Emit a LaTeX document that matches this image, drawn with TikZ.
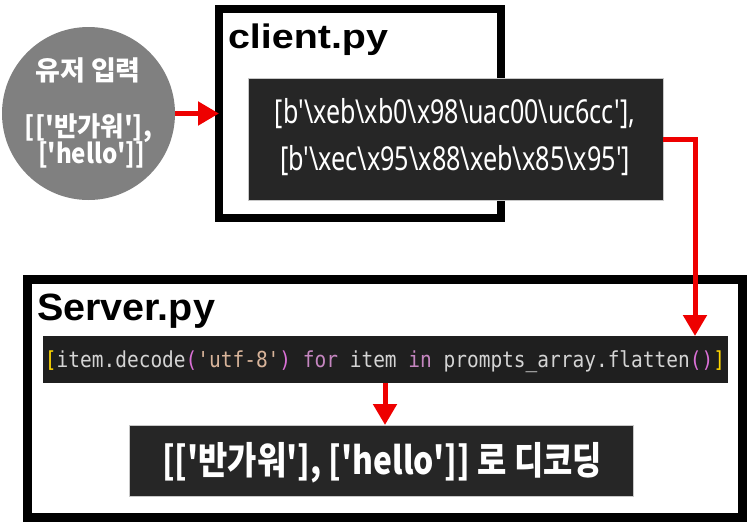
\documentclass[tikz,border=0pt]{standalone}
\usepackage{fontspec}
\usepackage{graphicx}
\usetikzlibrary{arrows.meta}
\newfontfamily\krfont{Noto Sans CJK KR}
\newfontfamily\titlefont{Liberation Sans}
\newfontfamily\codefont{DejaVu Sans Mono}
\newfontfamily\condfont{Noto Sans}
\definecolor{arrowred}{HTML}{EE0000}
\definecolor{circgray}{HTML}{808080}
\definecolor{boxdark}{HTML}{262626}
\definecolor{stripdark}{HTML}{1F1F1F}
\definecolor{boxedge}{HTML}{C8C8C8}
\definecolor{cyel}{HTML}{FFD700}
\definecolor{cfg}{HTML}{D4D4D4}
\definecolor{cpink}{HTML}{DA70D6}
\definecolor{cstr}{HTML}{D8B49A}
\definecolor{ckw}{HTML}{C586C0}
\newcommand{\bs}{\textbackslash}
\tikzset{
  frame/.style={draw=black, inner sep=0pt, outer sep=0pt},
  darkbox/.style={fill=boxdark, draw=boxedge, line width=0.8pt, inner sep=0pt, outer sep=0pt},
  redarrow/.style={draw=arrowred, line width=5pt, -{Triangle[length=21pt,width=23pt]}},
  lbl/.style={inner sep=0pt, outer sep=0pt, anchor=base},
}
\begin{document}
\begin{tikzpicture}[x=1pt,y=-1pt]
\useasboundingbox (0,0) rectangle (748,523);
% frames
\node[frame, line width=8pt, minimum width=282pt, minimum height=209pt] (cbox) at (360,113.5) {};
\node[frame, line width=9pt, minimum width=715pt, minimum height=238.5pt] (sbox) at (385,398.25) {};
% titles
\node[lbl, anchor=base west, font=\titlefont\bfseries\fontsize{34}{34}\selectfont] (ctitle) at (228,48) {\resizebox{160pt}{\height}{client.py}};
\node[lbl, anchor=base west, font=\titlefont\bfseries\fontsize{38}{38}\selectfont] (stitle) at (37,320) {\resizebox{178pt}{\height}{Server.py}};
% user input circle
\node[circle, fill=circgray, minimum size=173pt, inner sep=0pt] (circ) at (88.5,113.5) {};
\node[lbl, text=white, font=\krfont\bfseries\fontsize{27}{27}\selectfont] (u1) at (88,80) {유저 입력};
\node[lbl, text=white, font=\krfont\bfseries\fontsize{27}{27}\selectfont] (u2) at (88.5,136) {\resizebox{127pt}{\height}{[['반가워'],}};
\node[lbl, text=white, font=\krfont\bfseries\fontsize{27}{27}\selectfont] (u3) at (91.5,163) {\resizebox{107pt}{\height}{['hello']]}};
% client code box
\node[darkbox, minimum width=415pt, minimum height=122pt] (code) at (455.5,139) {};
\node[lbl, text=white, font=\condfont\fontsize{33}{33}\selectfont] (c1) at (455,123) {\resizebox{360pt}{\height}{[b'\bs xeb\bs xb0\bs x98\bs uac00\bs uc6cc'],}};
\node[lbl, text=white, font=\condfont\fontsize{33}{33}\selectfont] (c2) at (455,170) {\resizebox{350pt}{\height}{[b'\bs xec\bs x95\bs x88\bs xeb\bs x85\bs x95']}};
% server code strip
\node[fill=stripdark, inner sep=0pt, outer sep=0pt, minimum width=685pt, minimum height=47pt] (strip) at (385.5,359.5) {};
\node[lbl, font=\codefont\fontsize{22}{22}\selectfont] (codeline) at (385,367) {\resizebox{680pt}{\height}{\textcolor{cyel}{[}\textcolor{cfg}{item.decode}\textcolor{cpink}{(}\textcolor{cstr}{'utf-8'}\textcolor{cpink}{)}\textcolor{ckw}{\ for\ }\textcolor{cfg}{item}\textcolor{ckw}{\ in\ }\textcolor{cfg}{prompts\_array.flatten}\textcolor{cpink}{()}\textcolor{cyel}{]}}};
% result box
\node[darkbox, minimum width=504pt, minimum height=71pt] (res) at (381,460.5) {};
\node[lbl, text=white, font=\krfont\bfseries\fontsize{38}{38}\selectfont] (restext) at (382,474) {\resizebox{440pt}{\height}{[['반가워'], ['hello']] 로 디코딩}};
% connectors
\coordinate (colx) at (695,0);
\coordinate (a3) at (385,0);
\draw[redarrow] (circ.east) -- (circ.east -| cbox.west);
\draw[redarrow] (code.east) -| (strip.north -| colx);
\draw[redarrow] (strip.south -| a3) -- (res.north -| a3);
\end{tikzpicture}
\end{document}
